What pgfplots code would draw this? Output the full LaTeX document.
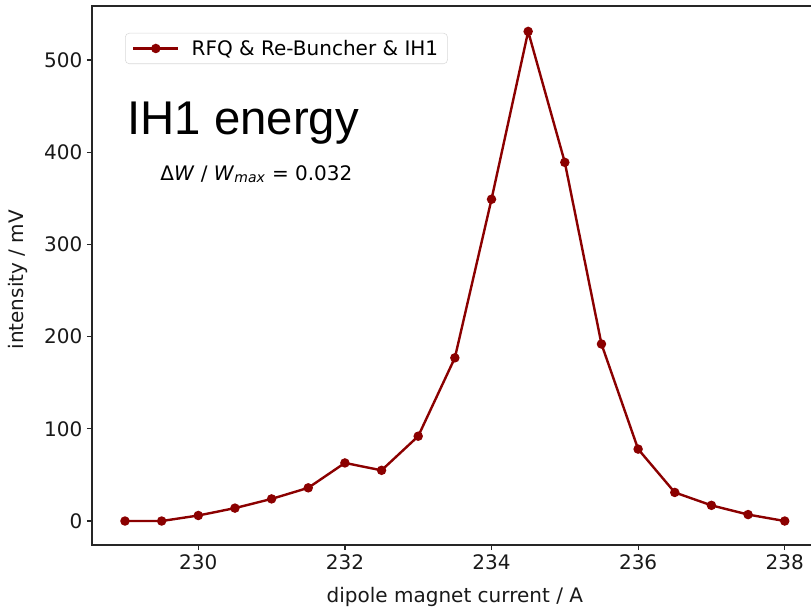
\documentclass[border=0pt]{standalone}
\usepackage{pgfplots}
\pgfplotsset{compat=1.18}
\usepackage{fontspec}
\setmainfont{DejaVu Sans}
\newfontfamily\arialfont{Liberation Sans}
\definecolor{darkred}{HTML}{8B0000}

\begin{document}
\begin{tikzpicture}
\useasboundingbox (-69pt,-46.5pt) rectangle (539.25pt,408.75pt);
\begin{axis}[
  at={(0,0)}, anchor=south west,
  scale only axis, width=544.3pt, height=404.25pt,
  xmin=228.55, xmax=238.45, ymin=-26, ymax=558.6,
  xtick={230,232,...,238}, ytick={0,100,...,500},
  tick pos=left, tick align=outside, major tick length=3.75pt,
  axis line style={black!85, line width=0.9pt},
  every tick/.style={black!85, line width=0.9pt},
  /pgf/number format/assume math mode=true,
  /pgf/number format/1000 sep={},
  tick label style={font=\fontsize{15}{18}\selectfont, black!90},
  xlabel={dipole magnet current / A},
  ylabel={intensity / mV},
  label style={font=\fontsize{15}{18}\selectfont, black!90},
  xlabel style={at={(axis description cs:0.5,-0.0965)}, anchor=center},
  ylabel style={at={(axis description cs:-0.102,0.492)}, anchor=center, rotate=0},
  legend style={at={(0.0455,0.95)}, anchor=north west, draw=black!15,
    rounded corners=3pt, font=\fontsize{15}{18}\selectfont, inner xsep=5pt, inner ysep=3pt},
  legend cell align=left,
  legend image code/.code={\draw[mark repeat=2,mark phase=2] plot coordinates {(0pt,0pt) (17pt,0pt) (34pt,0pt)}; \path (41pt,0pt);},
]
\addplot[darkred, line width=1.8pt, mark=*, mark size=2.6pt] coordinates {
  (229,0) (229.5,0) (230,6) (230.5,14) (231,24) (231.5,36) (232,63) (232.5,55)
  (233,92) (233.5,177) (234,349) (234.5,531) (235,389) (235.5,192) (236,78)
  (236.5,31) (237,17) (237.5,7) (238,0)
};
\addlegendentry{RFQ \& Re-Buncher \& IH1}
\node[anchor=base west, inner sep=0pt, font=\arialfont\fontsize{35.5}{40}\selectfont] at (axis cs:229.03,419.7) {IH1 energy};
\node[anchor=base west, inner sep=0pt, font=\fontsize{15}{18}\selectfont] at (axis cs:229.48,369.8) {Δ\textit{W} / \textit{W}\textsubscript{\textit{max}} = 0.032};
\end{axis}
\end{tikzpicture}
\end{document}
